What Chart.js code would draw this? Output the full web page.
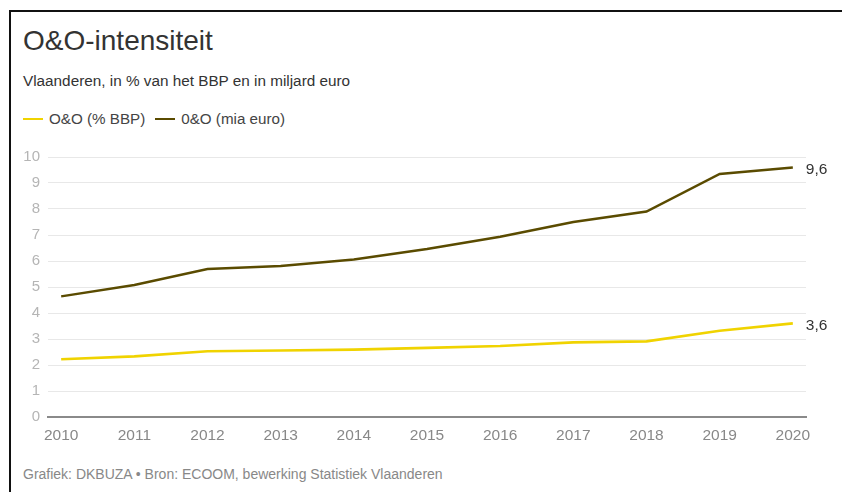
<!DOCTYPE html>
<html>
<head>
<meta charset="utf-8">
<script src="https://cdn.jsdelivr.net/npm/chart.js@4/dist/chart.umd.min.js"></script>
<style>
  body { margin: 0; width: 842px; height: 492px; background: #fff; overflow: hidden;
         font-family: "Liberation Sans", Arial, sans-serif; position: relative; }
  #frame { position: absolute; left: 9px; top: 10px; width: 900px; height: 600px;
           border: 2px solid #111; box-sizing: border-box; }
  #title { position: absolute; left: 23px; top: 25px; font-size: 28px; color: #333; }
  #sub { position: absolute; left: 23px; top: 72px; font-size: 15.3px; color: #333; }
  #legend { position: absolute; left: 23px; top: 110px; font-size: 15.2px; color: #444; }
  #legend span.item { margin-right: 10px; }
  #legend i { display: inline-block; width: 20px; height: 2px; vertical-align: middle;
              margin-right: 6px; position: relative; top: -1px; }
  #foot { position: absolute; left: 23px; top: 466px; font-size: 14px; color: #888; }
  #wrap { position: absolute; left: 0; top: 140px; width: 842px; height: 310px; }
</style>
</head>
<body>
<div id="frame"></div>
<div id="title">O&amp;O-intensiteit</div>
<div id="sub">Vlaanderen, in % van het BBP en in miljard euro</div>
<div id="legend"></div>
<div id="foot">Grafiek: DKBUZA • Bron: ECOOM, bewerking Statistiek Vlaanderen</div>
<div id="wrap"><canvas id="c"></canvas></div>
<script>
const years    = [2010, 2011, 2012, 2013, 2014, 2015, 2016, 2017, 2018, 2019, 2020];
const pctBBP   = [2.22, 2.33, 2.53, 2.56, 2.59, 2.66, 2.73, 2.87, 2.91, 3.32, 3.6];
const miaEuro  = [4.64, 5.08, 5.69, 5.81, 6.06, 6.46, 6.93, 7.5, 7.9, 9.35, 9.6];
const yTicks   = [0, 1, 2, 3, 4, 5, 6, 7, 8, 9, 10];
const names    = ['O&O (% BBP)', '0&O (mia euro)'];
const colors   = ['#f0d300', '#5a4b00'];

const legend = document.getElementById('legend');
names.forEach((n, i) => {
  const s = document.createElement('span');
  s.className = 'item';
  s.innerHTML = `<i style="background:${colors[i]}"></i>`;
  s.appendChild(document.createTextNode(n));
  legend.appendChild(s);
});

// label with the last value at the end of each line
const endLabels = {
  id: 'endLabels',
  afterDatasetsDraw(chart) {
    const c = chart.ctx;
    c.save();
    c.font = '15.5px "Liberation Sans", Arial, sans-serif';
    c.fillStyle = '#333';
    c.textBaseline = 'middle';
    chart.data.datasets.forEach((ds, i) => {
      const pts = chart.getDatasetMeta(i).data;
      const p = pts[pts.length - 1];
      const v = ds.data[ds.data.length - 1].y;
      c.fillText(v.toFixed(1).replace('.', ','), p.x + 13, p.y + 2);
    });
    c.restore();
  }
};

new Chart(document.getElementById('c'), {
  type: 'line',
  data: {
    datasets: [
      { label: names[0], data: years.map((y, i) => ({ x: y, y: pctBBP[i] })),
        borderColor: colors[0], borderWidth: 2.6, pointRadius: 0, tension: 0 },
      { label: names[1], data: years.map((y, i) => ({ x: y, y: miaEuro[i] })),
        borderColor: colors[1], borderWidth: 2.5, pointRadius: 0, tension: 0 }
    ]
  },
  options: {
    responsive: true,
    maintainAspectRatio: false,
    animation: false,
    layout: { padding: { left: 0, right: 36, top: 16, bottom: 0 } },
    plugins: { legend: { display: false }, tooltip: { enabled: false } },
    scales: {
      x: {
        type: 'linear', min: 2009.82, max: 2020.18,
        afterBuildTicks: (s) => { s.ticks = years.map(v => ({ value: v })); },
        afterFit: (s) => { s.height = 33; },
        grid: { display: false, drawTicks: false },
        border: { color: '#8a8a8a', width: 2 },
        ticks: { color: '#888', font: { size: 15.5, family: '"Liberation Sans", Arial, sans-serif' },
                 padding: 9, maxRotation: 0, callback: (v) => String(v) }
      },
      y: {
        min: 0, max: 10,
        afterBuildTicks: (s) => { s.ticks = yTicks.map(v => ({ value: v })); },
        afterFit: (s) => { s.width = 48; },
        grid: { color: '#e8e8e8', lineWidth: 1, drawTicks: false },
        border: { display: false },
        ticks: { color: '#b5b5b5', font: { size: 15, family: '"Liberation Sans", Arial, sans-serif' },
                 padding: 8 }
      }
    }
  },
  plugins: [endLabels]
});
</script>
</body>
</html>
